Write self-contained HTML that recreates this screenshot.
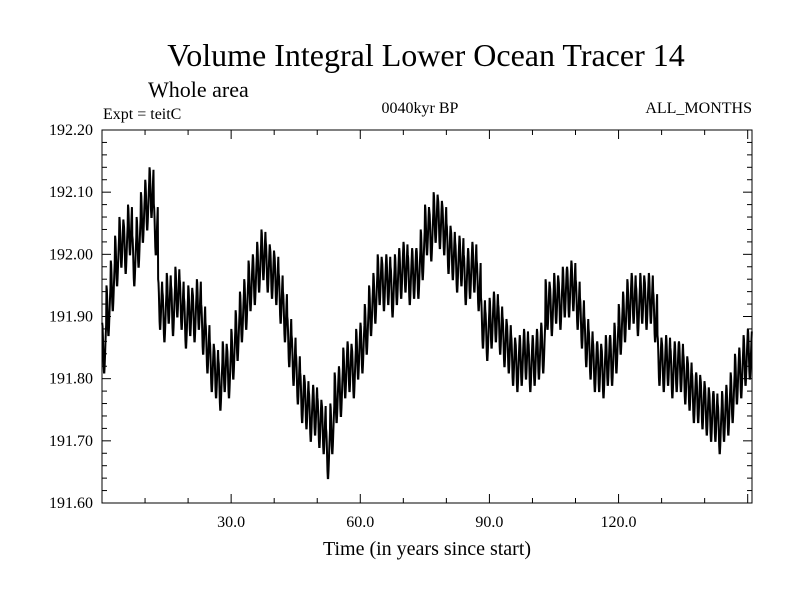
<!DOCTYPE html>
<html><head><meta charset="utf-8"><style>
html,body{margin:0;padding:0;background:#fff;}
svg text{font-family:"Liberation Serif",serif;fill:#000;}
</style></head><body>
<svg id="chart" width="800" height="600" xmlns="http://www.w3.org/2000/svg">
<text x="426" y="66" font-size="32" text-anchor="middle">Volume Integral Lower Ocean Tracer 14</text>
<text x="148" y="97" font-size="22">Whole area</text>
<text x="103" y="119" font-size="16">Expt = teitC</text>
<text x="420" y="113" font-size="16" text-anchor="middle">0040kyr BP</text>
<text x="752" y="113" font-size="16" text-anchor="end">ALL_MONTHS</text>
<text x="427" y="555" font-size="20" text-anchor="middle">Time (in years since start)</text>
<g id="axes"></g>
<g id="series"></g>
<rect x="102" y="130" width="650" height="373" fill="none" stroke="#000" stroke-width="1"/>
</svg>
<script>
const yTickValues=[191.60,191.70,191.80,191.90,192.00,192.10,192.20];
const yTickLabels=["191.60","191.70","191.80","191.90","192.00","192.10","192.20"];
const xTickValues=[30,60,90,120];
const xTickLabels=["30.0","60.0","90.0","120.0"];
const seasonalCycle=[0.04,0.034,0.018,-0.005,-0.028,-0.04,-0.04,-0.028,-0.012,0.006,0.022,0.036];
const annualMeans=[191.85,191.91,191.95,191.99,192.02,192.01,192.04,191.99,192.02,192.06,192.08,192.10,192.04,191.92,191.90,191.93,191.91,191.94,191.92,191.89,191.91,191.90,191.92,191.88,191.85,191.82,191.81,191.79,191.82,191.81,191.84,191.87,191.90,191.92,191.95,191.96,191.98,192.00,191.98,191.97,191.96,191.93,191.90,191.86,191.83,191.80,191.77,191.76,191.74,191.75,191.73,191.72,191.68,191.72,191.77,191.78,191.81,191.82,191.81,191.84,191.85,191.88,191.91,191.93,191.96,191.95,191.96,191.94,191.96,191.97,191.98,191.96,191.97,191.97,192.00,192.04,192.03,192.06,192.05,192.04,192.01,192.00,191.98,191.99,191.96,191.97,191.98,191.95,191.89,191.87,191.89,191.90,191.88,191.86,191.85,191.83,191.82,191.83,191.84,191.82,191.83,191.84,191.85,191.92,191.91,191.93,191.92,191.94,191.94,191.95,191.92,191.89,191.86,191.84,191.82,191.82,191.81,191.83,191.83,191.85,191.88,191.90,191.92,191.93,191.91,191.93,191.92,191.93,191.90,191.83,191.82,191.83,191.81,191.82,191.82,191.80,191.79,191.77,191.77,191.76,191.75,191.74,191.74,191.72,191.74,191.75,191.77,191.80,191.81,191.83,191.84];
const X0=102,X1=752,Y0=130,Y1=503,XMIN=0,XMAX=151,YMIN=191.6,YMAX=192.2;
function xs(v){return X0+(v-XMIN)/(XMAX-XMIN)*(X1-X0);}
function ys(v){return Y1-(v-YMIN)/(YMAX-YMIN)*(Y1-Y0);}
const NS="http://www.w3.org/2000/svg";
const axes=document.getElementById('axes');
function ln(x1,y1,x2,y2,name){const l=document.createElementNS(NS,'line');l.setAttribute('x1',x1);l.setAttribute('y1',y1);l.setAttribute('x2',x2);l.setAttribute('y2',y2);l.setAttribute('stroke','#000');l.setAttribute('stroke-width','1');


axes.appendChild(l);}
function tx(x,y,s,anchor,name){const t=document.createElementNS(NS,'text');t.setAttribute('x',x);t.setAttribute('y',y);t.setAttribute('font-size','16');t.setAttribute('text-anchor',anchor);t.textContent=s;


axes.appendChild(t);}
for(let v=191.6;v<=192.2001;v+=0.02){const y=ys(v);const major=Math.abs(Math.round(v*10)-v*10)<1e-6;const L=major?9:5;ln(X0,y,X0+L,y,'y-tick');ln(X1,y,X1-L,y,'y-tick');}
yTickValues.forEach((v,i)=>tx(X0-9,ys(v)+5,yTickLabels[i],'end','y-tick-label'));
for(let v=10;v<XMAX;v+=10){const x=xs(v);const major=v%30===0;const L=major?9:5;ln(x,Y1,x,Y1-L,'x-tick');ln(x,Y0,x,Y0+L,'x-tick');}
xTickValues.forEach((v,i)=>tx(xs(v),Y1+24,xTickLabels[i],'middle','x-tick-label'));
let pts=[];
annualMeans.forEach((m,yr)=>{seasonalCycle.forEach((s,k)=>{const t=yr+(k+0.5)/12;if(t<=XMAX)pts.push(xs(t).toFixed(2)+','+ys(m+s).toFixed(2));});});
const pl=document.createElementNS(NS,'polyline');
pl.setAttribute('points',pts.join(' '));pl.setAttribute('fill','none');pl.setAttribute('stroke','#000');pl.setAttribute('stroke-width','2');


document.getElementById('series').appendChild(pl);
</script>
</body></html>
